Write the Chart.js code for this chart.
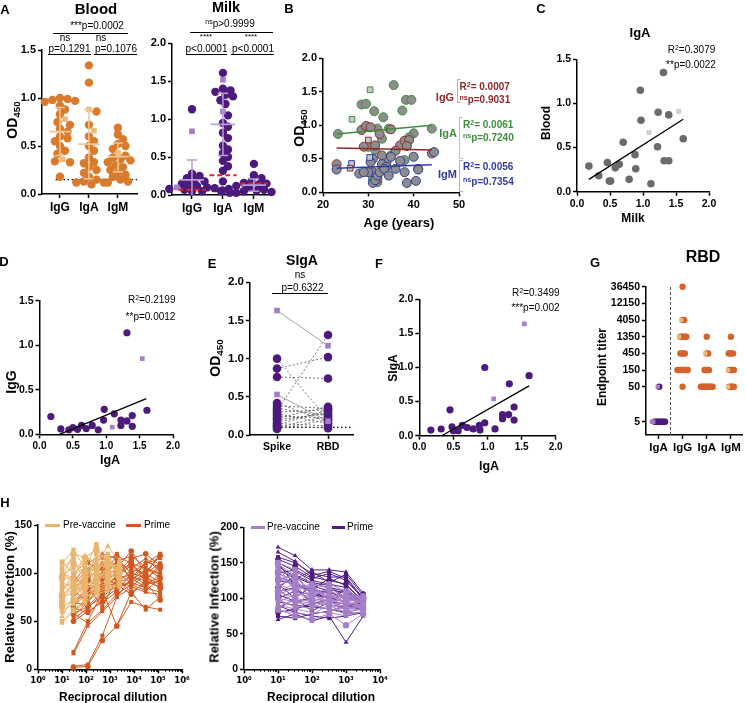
<!DOCTYPE html>
<html>
<head>
<meta charset="utf-8">
<title>Antibody panels</title>
<script src="https://cdn.jsdelivr.net/npm/chart.js@4.4.1/dist/chart.umd.min.js"></script>
<style>
  body { margin: 0; width: 746px; height: 703px; position: relative; overflow: hidden; background: #fff;
         font-family: 'Liberation Sans', Arial, sans-serif; color: #000; }
  canvas { position: absolute; left: -20px; top: 0; }
  .t { position: absolute; white-space: nowrap; line-height: 1; transform: translate(-50%, -50%); z-index: 2; }
  .t.l { transform: translate(0, -50%); }
  .t.r90 { transform: translate(-50%, -50%) rotate(-90deg); }
  .b { font-weight: bold; }
  .rule { position: absolute; height: 0; border-top: 1px solid #000; z-index: 2; }
  .brk { position: absolute; width: 3px; border: 1.5px solid; border-right: none; z-index: 2; }
  .key { position: absolute; height: 3px; z-index: 2; }
  sup { font-size: 70%; vertical-align: 0; position: relative; top: -0.45em; }
  sub { font-size: 70%; vertical-align: 0; position: relative; top: 0.3em; }
</style>
</head>
<body>
<script>
const FONT = "'Liberation Sans', Arial, 'DejaVu Sans', sans-serif";
const POW_FONT = "'DejaVu Sans Condensed', 'DejaVu Sans', sans-serif";
const W = 746, H = 703, OX = 20;

// ---------- data ----------
// A: spike OD450, blood and milk
const abCats = ['IgG', 'IgA', 'IgM'];
const bloodIgG = [1.0, 0.99, 0.98, 0.97, 0.96, 0.92, 0.88, 0.83, 0.75, 0.72, 0.68, 0.65, 0.6, 0.58, 0.55, 0.5, 0.45, 0.42, 0.34, 0.33, 0.18];
const bloodIgGSq = [0.78, 0.36];
const bloodIgA = [1.34, 1.16, 0.86, 0.72, 0.6, 0.55, 0.5, 0.45, 0.38, 0.33, 0.32, 0.28, 0.25, 0.22, 0.18, 0.15, 0.13, 0.12, 0.12, 0.1];
const bloodIgASq = [0.88, 0.66];
const bloodIgM = [0.69, 0.62, 0.57, 0.52, 0.5, 0.47, 0.4, 0.38, 0.36, 0.35, 0.33, 0.3, 0.28, 0.25, 0.22, 0.2, 0.18, 0.15, 0.13, 0.12];
const bloodIgMSq = [0.43];
const bloodMean = [0.65, 0.52, 0.39];
const bloodSdHi = [0.9, 0.88, 0.53];
const bloodSdLo = [0.4, 0.16, 0.23];
const bloodCutoff = 0.15;

const milkIgG = [1.13, 0.28, 0.25, 0.22, 0.2, 0.18, 0.15, 0.13, 0.12, 0.1, 0.09, 0.08, 0.07, 0.06, 0.05, 0.05, 0.04, 0.03, 0.03];
const milkIgGSq = [0.84, 0.1];
const milkIgA = [1.61, 1.4, 1.38, 1.36, 1.32, 1.3, 1.25, 1.2, 1.05, 0.95, 0.9, 0.82, 0.75, 0.65, 0.6, 0.55, 0.5, 0.45, 0.38, 0.32, 0.18];
const milkIgASq = [1.52, 1.1];
const milkIgM = [0.41, 0.26, 0.22, 0.18, 0.16, 0.15, 0.14, 0.12, 0.1, 0.08, 0.07, 0.06, 0.05, 0.05, 0.04, 0.03];
const milkIgMSq = [0.12, 0.08];
const milkMean = [0.2, 0.93, 0.13];
const milkSdHi = [0.46, 1.34, 0.21];
const milkSdLo = [0.0, 0.52, 0.05];
const milkBaseline = [0.07, 0.26, 0.15];

// B: OD450 vs age
const bAgeIgG = [23, 28.5, 29.5, 30.5, 31.5, 32.5, 35, 37, 38, 39, 38.5, 41, 44, 32, 31, 34, 29, 33, 36];
const bIgG = [0.42, 0.93, 0.99, 0.97, 0.7, 0.87, 0.94, 0.7, 0.77, 0.78, 0.69, 0.35, 0.58, 0.2, 0.3, 0.45, 0.68, 0.55, 0.62];
const bAgeIgGSq = [26, 30];
const bIgGSq = [0.36, 0.78];
const bAgeIgA = [23.3, 28.5, 29.5, 31.3, 33.3, 35.6, 37.5, 38.3, 39.5, 30, 32, 34.5, 33, 30, 31.5, 35, 38, 40, 39, 44, 31, 32];
const bIgA = [0.87, 1.31, 1.32, 1.21, 1.12, 1.6, 1.22, 1.38, 1.38, 0.97, 0.95, 0.95, 0.8, 0.68, 0.63, 0.55, 0.48, 0.88, 0.82, 0.95, 0.2, 0.15];
const bAgeIgASq = [26.4, 30.4];
const bIgASq = [1.09, 1.53];
const bAgeIgM = [23, 30, 31, 31.5, 32, 32.5, 33, 34, 35, 37, 38, 38.5, 40, 40.5, 41, 44.5, 28, 29, 31, 33.5, 34.5, 36, 30.5];
const bIgM = [0.34, 0.3, 0.14, 0.18, 0.25, 0.3, 0.42, 0.38, 0.53, 0.47, 0.3, 0.14, 0.53, 0.17, 0.34, 0.6, 0.28, 0.3, 0.5, 0.35, 0.25, 0.35, 0.45];
const bAgeIgMSq = [26.3, 30.3];
const bIgMSq = [0.43, 0.52];
const bFitAge = [23, 44];
const bFitIgG = [0.66, 0.63];
const bFitIgA = [0.87, 1.0];
const bFitIgM = [0.36, 0.41];

// C: IgA blood vs milk
const cMilk = [0.18, 0.33, 0.46, 0.49, 0.51, 0.58, 0.64, 0.7, 0.79, 0.88, 0.89, 0.96, 0.97, 1.12, 1.22, 1.23, 1.31, 1.32, 1.39, 1.39, 1.61];
const cBlood = [0.29, 0.18, 0.33, 0.12, 0.12, 0.27, 0.31, 0.56, 0.14, 0.42, 0.26, 1.15, 0.81, 0.09, 0.51, 0.9, 1.35, 0.35, 0.35, 0.87, 0.6];
const cMilkSq = [1.09, 1.54];
const cBloodSq = [0.67, 0.91];
const cFitX = [0.18, 1.61];
const cFitY = [0.14, 0.82];

// D: milk IgG vs IgA
const dIgA = [0.17, 0.32, 0.44, 0.5, 0.57, 0.63, 0.7, 0.79, 0.88, 0.96, 0.97, 1.12, 1.22, 1.22, 1.31, 1.31, 1.39, 1.39, 1.61];
const dIgG = [0.2, 0.06, 0.05, 0.075, 0.056, 0.1, 0.064, 0.1, 0.05, 0.16, 0.28, 0.23, 0.1, 0.16, 1.14, 0.15, 0.21, 0.09, 0.27];
const dIgASq = [1.09, 1.54];
const dIgGSq = [0.08, 0.85];
const dFitX = [0.3, 1.6];
const dFitY = [0.0, 0.4];

// E: SIgA spike vs RBD (paired)
const eCats = ['Spike', 'RBD'];
const eSpike = [1.0, 0.87, 0.76, 0.42, 0.38, 0.35, 0.32, 0.3, 0.28, 0.25, 0.22, 0.2, 0.17, 0.15, 0.13, 0.12, 0.1, 0.08];
const eRbd = [0.2, 1.02, 0.74, 0.17, 0.35, 0.25, 1.31, 0.33, 0.15, 0.22, 0.37, 0.28, 0.3, 0.12, 0.33, 0.09, 0.25, 0.2];
const eSpikeSq = [1.63, 0.53];
const eRbdSq = [1.17, 0.18];
const eCutoff = 0.1;

// F: SIgA vs IgA
const fIgA = [0.17, 0.32, 0.45, 0.48, 0.5, 0.57, 0.63, 0.7, 0.79, 0.88, 0.89, 0.96, 0.96, 1.11, 1.22, 1.22, 1.31, 1.32, 1.39, 1.39, 1.61];
const fSIgA = [0.083, 0.098, 0.38, 0.13, 0.073, 0.073, 0.15, 0.12, 0.1, 0.15, 0.083, 0.19, 1.0, 0.1, 0.25, 0.31, 0.31, 0.76, 0.42, 0.23, 0.88];
const fIgASq = [1.09, 1.54];
const fSIgASq = [0.54, 1.64];
const fFitX = [0.33, 1.61];
const fFitY = [0.0, 0.73];

// G: RBD endpoint titers
const gCats = ['IgA', 'IgG', 'IgA', 'IgM'];
const gTicks = [5, 50, 150, 450, 1350, 4050, 12150, 36450];
const gMilkIgA = [50, 5, 5, 5, 5, 5, 5, 5, 5];
const gMilkIgASq = [50, 5, 5];
const gBloodIgG = [36450, 4050, 4050, 1350, 1350, 1350, 1350, 1350, 450, 450, 450, 450, 150, 150, 150, 150, 150, 150, 150, 150, 50];
const gBloodIgGSq = [4050, 1350];
const gBloodIgA = [1350, 450, 450, 150, 150, 150, 150, 50, 50, 50, 50, 50, 50, 50, 50, 50];
const gBloodIgASq = [450];
const gBloodIgM = [1350, 450, 450, 450, 450, 150, 150, 150, 150, 50, 50, 50, 50];
const gBloodIgMSq = [150, 50];

// H: neutralisation curves
const hLeftPreDil = [10, 30, 90, 270, 810, 2430];
const hLeftPrimeDil = [30, 120, 480, 1920, 7680, 30720, 122880];
const hLeftPre = [
  [110, 124, 105, 130, 100, 95], [100, 95, 118, 110, 128, 113], [90, 85, 80, 95, 100, 105],
  [65, 72, 78, 85, 90, 100], [50, 62, 70, 80, 85, 90], [48, 60, 68, 78, 82, 88],
  [95, 110, 100, 105, 110, 100], [85, 90, 95, 100, 95, 108], [80, 100, 110, 90, 115, 98],
  [105, 115, 90, 120, 105, 110], [75, 80, 88, 92, 98, 95], [98, 105, 112, 100, 92, 102],
  [88, 78, 100, 115, 118, 92], [70, 92, 85, 88, 108, 104], [60, 68, 75, 82, 88, 86],
  [92, 98, 105, 96, 102, 110], [102, 88, 96, 108, 112, 106], [78, 86, 92, 104, 96, 100],
  [112, 100, 84, 98, 120, 96], [55, 75, 95, 112, 104, 98], [96, 120, 116, 125, 110, 104],
  [82, 94, 72, 86, 94, 90]
];
const hLeftPrime = [
  [2, 3, 30, 45, 80, 90, 95], [3, 5, 35, 75, 85, 100, 90], [16, 45, 60, 75, 95, 85, 100],
  [18, 50, 80, 85, 90, 100, 110], [50, 60, 70, 80, 100, 95, 105], [55, 70, 85, 90, 95, 110, 120],
  [60, 75, 90, 100, 110, 105, 95], [65, 80, 95, 105, 123, 100, 118], [70, 85, 65, 95, 80, 62, 75],
  [75, 90, 100, 110, 105, 115, 102], [80, 100, 110, 120, 90, 85, 80], [85, 95, 105, 100, 115, 120, 108],
  [62, 72, 82, 45, 70, 65, 62], [90, 110, 120, 115, 100, 110, 115], [58, 65, 75, 88, 78, 92, 85],
  [72, 78, 88, 95, 98, 88, 92], [52, 64, 78, 92, 86, 80, 78], [68, 82, 96, 112, 118, 106, 98],
  [78, 92, 86, 96, 108, 96, 88], [88, 104, 116, 108, 96, 92, 110], [64, 58, 72, 84, 92, 104, 100],
  [95, 85, 98, 118, 110, 96, 84], [58, 48, 62, 78, 88, 82, 94], [82, 70, 92, 100, 90, 112, 106],
  [100, 112, 96, 88, 104, 100, 120], [70, 66, 80, 96, 112, 90, 72]
];
const hRightDil = [10, 32, 100, 320, 1000, 3200];
const hRightPre = [
  [150, 140, 120, 115, 100, 95], [140, 130, 110, 105, 95, 100], [130, 120, 115, 100, 90, 95],
  [120, 110, 100, 95, 85, 90], [110, 100, 95, 90, 80, 85], [100, 95, 90, 85, 78, 80],
  [90, 85, 80, 80, 75, 82], [85, 75, 70, 78, 62, 78], [125, 135, 105, 110, 100, 104],
  [115, 90, 85, 100, 105, 98], [105, 115, 120, 95, 88, 92], [135, 125, 100, 120, 110, 100],
  [95, 105, 108, 88, 95, 88], [145, 110, 95, 105, 92, 96], [128, 118, 108, 112, 98, 102],
  [88, 98, 92, 84, 86, 90], [118, 128, 98, 92, 104, 94], [98, 88, 112, 102, 82, 86],
  [138, 112, 118, 98, 96, 98], [108, 122, 88, 106, 100, 92], [82, 80, 76, 92, 84, 88],
  [148, 132, 104, 96, 106, 100]
];
const hRightPrime = [
  [172, 160, 140, 140, 137, 107], [158, 150, 135, 130, 130, 100], [155, 145, 130, 125, 120, 95],
  [150, 138, 125, 120, 115, 92], [145, 130, 120, 115, 110, 90], [100, 110, 105, 100, 95, 85],
  [95, 90, 88, 85, 80, 78], [70, 78, 68, 75, 38, 75], [90, 80, 75, 72, 75, 80],
  [125, 120, 112, 108, 102, 95], [135, 140, 128, 135, 125, 100], [110, 115, 95, 90, 88, 94],
  [80, 85, 92, 98, 105, 88], [120, 100, 118, 110, 98, 102], [165, 152, 132, 138, 128, 98],
  [140, 128, 138, 122, 134, 104], [105, 96, 100, 112, 108, 96], [75, 72, 78, 82, 90, 84],
  [130, 122, 108, 100, 112, 90], [115, 132, 122, 118, 100, 106], [85, 100, 82, 95, 92, 82],
  [150, 118, 112, 128, 118, 96]
];

// ---------- colours ----------
const ORANGE = '#D97A2C', TAN = '#E9BC7C', TAN_BAR = '#EFC893';
const PURPLE = '#4B1A7B', LPURPLE = '#A67DC6', LPURPLE_BAR = '#BB9BD9';
const RED = '#D22B2B';
const GREY = '#8D8D8D', LGREY = '#C9C9C9';
const C_IGG = '#8E2A2A', C_IGA = '#3F8D3F', C_IGM = '#2F3D9A';
const G_ORANGE = '#D5642B';
const H_TAN = '#E8B56E', H_ORANGE = '#D1581F', H_LPURPLE = '#A57FC7', H_PURPLE = '#4F1C82';

// ---------- plot areas (page px) ----------
const box = {
  blood: { x0: 42, x1: 137, y0: 50, y1: 194 },
  milk: { x0: 172, x1: 270, y0: 43.3, y1: 195 },
  b: { x0: 323, x1: 459, y0: 58.3, y1: 192.3 },
  c: { x0: 577, x1: 709, y0: 59.3, y1: 191.7 },
  d: { x0: 39.5, x1: 173, y0: 300.7, y1: 434.3 },
  e: { x0: 250, x1: 353, y0: 282.3, y1: 435 },
  f: { x0: 419.3, x1: 555.7, y0: 299.3, y1: 435.7 },
  g: { x0: 646, x1: 744, y0: 286.7, y1: 435 },
  hl: { x0: 38, x1: 182, y0: 525, y1: 669.3 },
  hr: { x0: 244, x1: 380, y0: 527.3, y1: 669.3 }
};

// ---------- helpers ----------
function pts(xs, ys) { return ys.map((y, i) => ({ x: xs[i], y })); }

function dots(data, fill, opt) {
  return Object.assign({
    data, showLine: false, pointStyle: 'circle', pointRadius: 4,
    pointBackgroundColor: fill, pointBorderColor: fill, pointBorderWidth: 0, clip: false
  }, opt || {});
}

function path(data, color, width, dash) {
  return { data, showLine: true, borderColor: color, borderWidth: width, borderDash: dash || [],
           pointRadius: 0, spanGaps: false, clip: false };
}

function ax(min, max, o) {
  const a = {
    type: o.type || 'linear', min, max,
    border: { display: true, color: '#000', width: 1.5 },
    grid: { display: true, drawOnChartArea: false, drawTicks: true, tickLength: 4, tickColor: '#000', tickWidth: 1.5 },
    ticks: { color: '#000', autoSkip: false, maxRotation: 0, padding: 2,
             font: { family: o.family || FONT, size: o.size || 10.5, weight: 'bold' },
             callback: o.fmt || (v => Number(v).toFixed(1)) }
  };
  if (o.step) a.ticks.stepSize = o.step;
  if (o.ticks) a.afterBuildTicks = s => { s.ticks = o.ticks.map(v => ({ value: v })); };
  return a;
}

const YW = 40, XH = 20;
function panel(r, datasets, scales, plugins, pluginOpts) {
  const cv = document.createElement('canvas');
  cv.width = W + OX; cv.height = H;
  document.body.appendChild(cv);
  scales.x.afterFit = s => { s.height = XH; };
  scales.y.afterFit = s => { s.width = YW; };
  return new Chart(cv, {
    type: 'scatter',
    data: { datasets },
    options: {
      responsive: false, animation: false, events: [],
      layout: { padding: { left: r.x0 + OX - YW, top: r.y0, right: W - r.x1, bottom: H - r.y1 - XH } },
      scales,
      plugins: Object.assign({ legend: { display: false }, tooltip: { enabled: false } }, pluginOpts || {})
    },
    plugins: plugins || []
  });
}

// beeswarm offsets for a category column (pixel space -> axis units)
function swarm(values, center, pxX, pxY, rad) {
  const order = values.map((v, i) => i).sort((a, b) => values[b] - values[a]);
  const placed = [], xs = [];
  order.forEach(i => {
    const y = values[i] * pxY;
    let off = 0;
    for (let s = 0; s < 40; s++) {
      off = s === 0 ? 0 : (s % 2 ? 1 : -1) * Math.ceil(s / 2) * rad * 0.6;
      if (placed.every(p => Math.hypot(p.x - off, p.y - y) >= rad * 1.5)) break;
    }
    placed.push({ x: off, y });
    xs[i] = center + off / pxX;
  });
  return xs;
}

// rows of equal titers spread sideways
function rows(values, center, step) {
  const groups = {};
  values.forEach((v, i) => (groups[v] = groups[v] || []).push(i));
  const xs = [];
  Object.values(groups).forEach(idx => idx.forEach((i, k) => { xs[i] = center + (k - (idx.length - 1) / 2) * step; }));
  return xs;
}

function meanBars(means, half) {
  const out = [];
  means.forEach((m, i) => out.push({ x: i + 1 - half, y: m }, { x: i + 1 + half, y: m }, { x: i + 1, y: null }));
  return out;
}

function sdBars(lo, hi, cap) {
  const out = [];
  lo.forEach((l, i) => {
    const c = i + 1;
    out.push({ x: c, y: l }, { x: c, y: hi[i] }, { x: c, y: null },
             { x: c - cap, y: hi[i] }, { x: c + cap, y: hi[i] }, { x: c, y: null });
    if (l > 0) out.push({ x: c - cap, y: l }, { x: c + cap, y: l }, { x: c, y: null });
  });
  return out;
}

// split a combined swarm back into circles / squares
function columnPoints(groups, sqGroups, pxX, pxY, rad) {
  const circ = [], sq = [];
  groups.forEach((vals, i) => {
    const all = vals.concat(sqGroups[i]);
    const xs = swarm(all, i + 1, pxX, pxY, rad);
    all.forEach((v, k) => (k < vals.length ? circ : sq).push({ x: xs[k], y: v }));
  });
  return { circ, sq };
}

const minorTicks = {
  id: 'minorTicks',
  afterDraw(chart, args, opts) {
    const s = chart.scales.x, ctx = chart.ctx;
    ctx.save();
    ctx.strokeStyle = '#000';
    ctx.lineWidth = 1;
    ctx.beginPath();
    for (let k = 0; k < opts.decades; k++) {
      for (let m = 2; m < 10; m++) {
        const px = Math.round(s.getPixelForValue(m * Math.pow(10, k))) + 0.5;
        ctx.moveTo(px, s.top);
        ctx.lineTo(px, s.top + 2.5);
      }
    }
    ctx.stroke();
    ctx.restore();
  }
};

const SUP = ['\u2070', '\u00B9', '\u00B2', '\u00B3', '\u2074', '\u2075', '\u2076'];
const powLabel = v => '10' + SUP[Math.round(Math.log10(v))];

// ---------- A: blood ----------
{
  const r = box.blood, xmin = 0.38, xmax = 3.66, ymax = 1.5;
  const pxX = (r.x1 - r.x0) / (xmax - xmin), pxY = (r.y1 - r.y0) / ymax;
  const p = columnPoints([bloodIgG, bloodIgA, bloodIgM], [bloodIgGSq, bloodIgASq, bloodIgMSq], pxX, pxY, 4.2);
  panel(r, [
    path(meanBars(bloodMean, 0.38), TAN_BAR, 1.8),
    path(sdBars(bloodSdLo, bloodSdHi, 0.17), TAN_BAR, 1.5),
    dots(p.sq, TAN, { pointStyle: 'rect', pointRadius: 4 }),
    dots(p.circ, ORANGE, { pointRadius: 4.2 }),
    path([{ x: 0.85, y: bloodCutoff }, { x: xmax, y: bloodCutoff }], '#000', 1.2, [1.5, 2.5])
  ], {
    x: ax(xmin, xmax, { ticks: [1, 2, 3], size: 12, fmt: v => abCats[v - 1] }),
    y: ax(0, ymax, { step: 0.5, size: 11 })
  });
}

// ---------- A: milk ----------
{
  const r = box.milk, xmin = 0.355, xmax = 3.52, ymax = 2;
  const pxX = (r.x1 - r.x0) / (xmax - xmin), pxY = (r.y1 - r.y0) / ymax;
  const p = columnPoints([milkIgG, milkIgA, milkIgM], [milkIgGSq, milkIgASq, milkIgMSq], pxX, pxY, 4.2);
  panel(r, [
    path(meanBars(milkMean, 0.39), LPURPLE_BAR, 1.8),
    path(sdBars(milkSdLo, milkSdHi, 0.17), LPURPLE_BAR, 1.5),
    path(meanBars(milkBaseline, 0.44), RED, 2, [5, 3]),
    dots(p.sq, LPURPLE, { pointStyle: 'rect', pointRadius: 4 }),
    dots(p.circ, PURPLE, { pointRadius: 4.2 })
  ], {
    x: ax(xmin, xmax, { ticks: [1, 2, 3], size: 12, fmt: v => abCats[v - 1] }),
    y: ax(0, ymax, { step: 0.5, size: 11 })
  });
}

// ---------- B ----------
{
  const edge = c => ({ pointBorderColor: c, pointBorderWidth: 1, pointRadius: 4.5 });
  panel(box.b, [
    path(pts(bFitAge, bFitIgG), C_IGG, 1.5),
    path(pts(bFitAge, bFitIgA), C_IGA, 1.5),
    path(pts(bFitAge, bFitIgM), C_IGM, 1.5),
    dots(pts(bAgeIgGSq, bIgGSq), LGREY, Object.assign(edge(C_IGG), { pointStyle: 'rect', pointRadius: 4 })),
    dots(pts(bAgeIgASq, bIgASq), LGREY, Object.assign(edge(C_IGA), { pointStyle: 'rect', pointRadius: 4 })),
    dots(pts(bAgeIgMSq, bIgMSq), LGREY, Object.assign(edge(C_IGM), { pointStyle: 'rect', pointRadius: 4 })),
    dots(pts(bAgeIgM, bIgM), GREY, edge(C_IGM)),
    dots(pts(bAgeIgG, bIgG), GREY, edge(C_IGG)),
    dots(pts(bAgeIgA, bIgA), GREY, edge(C_IGA))
  ], {
    x: ax(20, 50, { step: 10, size: 11, fmt: v => String(v) }),
    y: ax(0, 2, { step: 0.5, size: 11 })
  });
}

// ---------- C ----------
panel(box.c, [
  path(pts(cFitX, cFitY), '#000', 1.3),
  dots(pts(cMilkSq, cBloodSq), '#CFCFCF', { pointStyle: 'rect', pointRadius: 3.5 }),
  dots(pts(cMilk, cBlood), '#6B6B6B', { pointRadius: 3.8 })
], {
  x: ax(0, 2, { step: 0.5 }),
  y: ax(0, 1.5, { step: 0.5 })
});

// ---------- D ----------
panel(box.d, [
  path(pts(dFitX, dFitY), '#000', 1.3),
  dots(pts(dIgASq, dIgGSq), LPURPLE, { pointStyle: 'rect', pointRadius: 3.3 }),
  dots(pts(dIgA, dIgG), PURPLE, { pointRadius: 3.6 })
], {
  x: ax(0, 2, { step: 0.5, size: 10 }),
  y: ax(0, 1.5, { step: 0.5 })
});

// ---------- E ----------
{
  const pairLines = [], sqLines = [];
  eSpike.forEach((v, i) => pairLines.push({ x: 1, y: v }, { x: 2, y: eRbd[i] }, { x: 1, y: null }));
  eSpikeSq.forEach((v, i) => sqLines.push({ x: 1, y: v }, { x: 2, y: eRbdSq[i] }, { x: 1, y: null }));
  panel(box.e, [
    dots(eSpikeSq.map(v => ({ x: 1, y: v })).concat(eRbdSq.map(v => ({ x: 2, y: v }))), LPURPLE, { pointStyle: 'rect', pointRadius: 4 }),
    dots(eSpike.map(v => ({ x: 1, y: v })).concat(eRbd.map(v => ({ x: 2, y: v }))), PURPLE, { pointRadius: 4.3 }),
    path(sqLines, '#9A9A9A', 0.9),
    path(pairLines, '#555', 0.8, [2, 2]),
    path([{ x: 0.92, y: eCutoff }, { x: 2.49, y: eCutoff }], '#000', 1.2, [1.5, 2.5])
  ], {
    x: ax(0.47, 2.49, { ticks: [1, 2], size: 10.5, fmt: v => eCats[v - 1] }),
    y: ax(0, 2, { step: 0.5, size: 11.5 })
  });
}

// ---------- F ----------
panel(box.f, [
  path(pts(fFitX, fFitY), '#000', 1.3),
  dots(pts(fIgASq, fSIgASq), LPURPLE, { pointStyle: 'rect', pointRadius: 3.3 }),
  dots(pts(fIgA, fSIgA), PURPLE, { pointRadius: 3.6 })
], {
  x: ax(0, 2, { step: 0.5, size: 10 }),
  y: ax(0, 2, { step: 0.5 })
});

// ---------- G ----------
{
  const step = 0.061;
  const cols = [[gMilkIgA, gMilkIgASq], [gBloodIgG, gBloodIgGSq], [gBloodIgA, gBloodIgASq], [gBloodIgM, gBloodIgMSq]];
  const sets = [];
  cols.forEach(([circ, sq], i) => {
    const all = sq.concat(circ);
    const xs = rows(all, i + 1, step);
    const light = i === 0 ? LPURPLE : TAN, dark = i === 0 ? PURPLE : G_ORANGE;
    sets.push(dots(sq.map((v, k) => ({ x: xs[k], y: v })), light, { pointStyle: 'rect', pointRadius: 3 }));
    sets.push(dots(circ.map((v, k) => ({ x: xs[sq.length + k], y: v })), dark, { pointRadius: 3.2 }));
  });
  sets.push(path([{ x: 1.5, y: 2.08 }, { x: 1.5, y: 36450 }], '#555', 1, [3, 2]));
  panel(box.g, sets, {
    x: ax(0.484, 4.46, { ticks: [1, 2, 3, 4], size: 11.5, fmt: v => gCats[v - 1] }),
    y: ax(2.08, 36450, { type: 'logarithmic', ticks: gTicks, size: 10.5, fmt: v => String(v) })
  });
}

// ---------- H ----------
const hStyles = ['circle', 'rect', 'triangle', 'rect', 'circle', 'rect', 'triangle'];
function curves(series, dil, color, styleShift, rad) {
  return series.map((ys, i) => ({
    data: pts(dil, ys), showLine: true, borderColor: color, borderWidth: 1,
    pointStyle: hStyles[(i + styleShift) % hStyles.length], pointRadius: rad,
    pointBackgroundColor: color, pointBorderColor: color, pointBorderWidth: 0, clip: false
  }));
}

panel(box.hl,
  curves(hLeftPre, hLeftPreDil, H_TAN, 1, 3.2).concat(curves(hLeftPrime, hLeftPrimeDil, H_ORANGE, 0, 2.8)),
  {
    x: ax(1, 1e6, { type: 'logarithmic', ticks: [1, 10, 100, 1e3, 1e4, 1e5, 1e6], size: 9.5, family: POW_FONT, fmt: powLabel }),
    y: ax(0, 150, { step: 50, size: 10.5, fmt: v => String(v) })
  },
  [minorTicks], { minorTicks: { decades: 6 } });

panel(box.hr,
  curves(hRightPre, hRightDil, H_LPURPLE, 0, 3.2).concat(curves(hRightPrime, hRightDil, H_PURPLE, 2, 2.8)),
  {
    x: ax(1, 1e4, { type: 'logarithmic', ticks: [1, 10, 100, 1e3, 1e4], size: 9.5, family: POW_FONT, fmt: powLabel }),
    y: ax(0, 200, { step: 50, size: 10.5, fmt: v => String(v) })
  },
  [minorTicks], { minorTicks: { decades: 4 } });

// ---------- text overlays ----------
function text(html, x, y, size, cls, color) {
  const d = document.createElement('div');
  d.className = 't ' + (cls || '');
  d.innerHTML = html;
  d.style.left = x + 'px';
  d.style.top = y + 'px';
  d.style.fontSize = size + 'px';
  if (color) d.style.color = color;
  document.body.appendChild(d);
}
function rule(x1, x2, y, color) {
  const d = document.createElement('div');
  d.className = 'rule';
  d.style.left = x1 + 'px';
  d.style.width = (x2 - x1) + 'px';
  d.style.top = y + 'px';
  if (color) d.style.borderTopColor = color;
  document.body.appendChild(d);
}
function bracket(x, y1, y2, color) {
  const d = document.createElement('div');
  d.className = 'brk';
  d.style.left = x + 'px';
  d.style.top = y1 + 'px';
  d.style.height = (y2 - y1) + 'px';
  d.style.borderColor = color;
  document.body.appendChild(d);
}
function key(x1, x2, y, color) {
  const d = document.createElement('div');
  d.className = 'key';
  d.style.left = x1 + 'px';
  d.style.width = (x2 - x1) + 'px';
  d.style.top = (y - 1.5) + 'px';
  d.style.background = color;
  document.body.appendChild(d);
}

// panel letters
[['A', 5, 9], ['B', 289, 8], ['C', 541, 8], ['D', 4, 261], ['E', 212, 263],
 ['F', 379, 263], ['G', 595, 262], ['H', 5, 502]].forEach(([s, x, y]) => text(s, x, y, 13, 'b'));

// A
text('Blood', 96, 8, 15, 'b');
text('Milk', 226, 7, 14.5, 'b');
text('OD<sub>450</sub>', 12, 120, 14, 'b r90');
text('***p=0.0002', 97, 26, 10);
rule(53, 128, 32.5);
text('ns', 65, 38, 10);
text('p=0.1291', 69.5, 48.5, 10);
rule(48, 91, 54);
text('ns', 101, 38, 10);
text('p=0.1076', 116, 48.5, 10);
rule(94, 137, 54);
text('<sup>ns</sup>p&gt;0.9999', 230, 24, 10);
rule(190, 273, 32);
text('****', 206, 37, 8);
text('p&lt;0.0001', 206.5, 48.5, 10);
rule(186, 227, 53.5);
text('****', 251, 37, 8);
text('p&lt;0.0001', 253, 48.5, 10);
rule(231, 274, 53.5);

// B
text('OD<sub>450</sub>', 299, 128, 14, 'b r90');
text('Age (years)', 399, 222, 13, 'b');
bracket(456.5, 79, 101, '#D8A8A8');
text('R<sup>2</sup>= 0.0007', 459.5, 87, 10, 'b l', C_IGG);
text('<sup>ns</sup>p=0.9031', 459.5, 100, 10, 'b l', C_IGG);
text('IgG', 445, 97, 11, 'b', C_IGG);
bracket(459, 117, 157, '#A6D0A6');
text('R<sup>2</sup>= 0.0061', 463, 125, 10, 'b l', C_IGA);
text('<sup>ns</sup>p=0.7240', 463, 138, 10, 'b l', C_IGA);
text('IgA', 448, 133, 11, 'b', C_IGA);
bracket(459, 160, 190, '#A8AEDC');
text('R<sup>2</sup>= 0.0056', 463, 167, 10, 'b l', C_IGM);
text('<sup>ns</sup>p=0.7354', 463, 182, 10, 'b l', C_IGM);
text('IgM', 447.5, 174, 11, 'b', C_IGM);

// C
text('IgA', 640, 32, 13, 'b');
text('R<sup>2</sup>=0.3079', 691.5, 50, 10);
text('**p=0.0022', 691, 65, 10);
text('Blood', 546, 123, 12, 'b r90');
text('Milk', 633, 218, 12, 'b');

// D
text('R<sup>2</sup>=0.2199', 151.7, 300, 10);
text('**p=0.0012', 150.5, 317, 10);
text('IgG', 11, 382, 14, 'b r90');
text('IgA', 110, 460, 12.5, 'b');

// E
text('SIgA', 302, 260, 14, 'b');
text('ns', 300, 275, 10);
text('p=0.6322', 302.5, 287.5, 10);
rule(272, 328, 293);
text('OD<sub>450</sub>', 215, 358, 14, 'b r90');

// F
text('R<sup>2</sup>=0.3499', 535.8, 293, 10);
text('***p=0.002', 535.5, 308, 10);
text('SIgA', 393, 368, 12, 'b r90');
text('IgA', 489, 466, 12.5, 'b');

// G
text('RBD', 703, 257, 16, 'b');
text('Endpoint titer', 602, 367, 12, 'b r90');

// H
text('Relative Infection (%)', 8.5, 597, 13, 'b r90');
text('Reciprocal dilution', 113, 697, 12, 'b');
text('Relative Infection (%)', 214, 597, 13, 'b r90');
text('Reciprocal dilution', 321, 697, 12, 'b');
key(45, 60, 525, H_TAN);
text('Pre-vaccine', 63, 525, 10, 'l');
key(126, 141, 525, H_ORANGE);
text('Prime', 144, 525, 10, 'l');
key(251, 265, 527.3, H_LPURPLE);
text('Pre-vaccine', 267, 527.3, 10, 'l');
key(332, 345, 527.3, H_PURPLE);
text('Prime', 347, 527.3, 10, 'l');
</script>
</body>
</html>
